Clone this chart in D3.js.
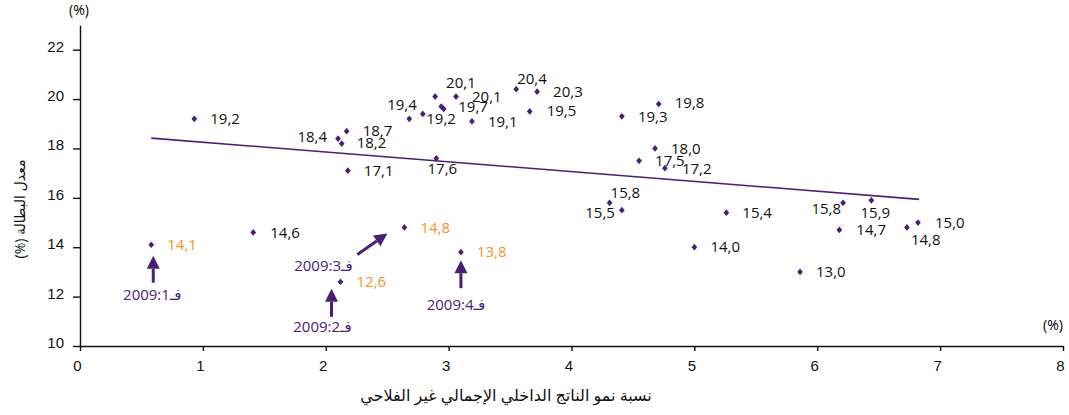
<!DOCTYPE html>
<html>
<head>
<meta charset="utf-8">
<script src="https://cdn.jsdelivr.net/npm/d3@7"></script>
<style>
  body { margin: 0; background: #fff; }
  svg { font-family: 'Open Sans', 'DejaVu Sans', sans-serif; }
  .tick text { font-size: 15px; fill: #111; }
  .domain, .tick line { stroke: #111; stroke-width: 1.4px; }
</style>
</head>
<body>
<svg width="1069" height="415"></svg>
<script>
// growth of non-agricultural GDP (x) vs unemployment rate (y), quarterly
const gdpGrowth = [0.93, 2.10, 2.17, 2.13, 2.18, 2.79, 2.68, 2.89, 3.06, 2.94, 2.96, 3.19,
  3.55, 3.72, 3.66, 2.90, 4.41, 4.71, 4.68, 4.55, 4.76, 4.31, 4.41, 5.26, 5.00, 5.86,
  6.21, 6.44, 6.18, 6.82, 6.73, 1.41];
const unemployment = [19.2, 18.4, 18.7, 18.2, 17.1, 19.4, 19.2, 20.1, 20.1, 19.7, 19.6, 19.1,
  20.4, 20.3, 19.5, 17.6, 19.3, 19.8, 18.0, 17.5, 17.2, 15.8, 15.5, 15.4, 14.0, 13.0,
  15.8, 15.9, 14.7, 15.0, 14.8, 14.6];
const showLabel = unemployment.map((d, i) => i !== 10);

// 2009 quarters
const quarterNames = ['فـ2009:1', 'فـ2009:2', 'فـ2009:3', 'فـ2009:4'];
const quarterGrowth = [0.58, 2.12, 2.64, 3.10];
const quarterUnemployment = [14.1, 12.6, 14.8, 13.8];

// trend line ends
const trendX = [0.58, 6.83];
const trendY = [18.42, 15.94];

const xTicks = [0, 1, 2, 3, 4, 5, 6, 7, 8];
const yTicks = [10, 12, 14, 16, 18, 20, 22];

const xTitle = 'نسبة نمو الناتج الداخلي الإجمالي غير الفلاحي';
const yTitle = 'معدل البطالة (%)';

// label placement for each point: [dx, dy, anchor]
const labelPlace = [
  [16, 0, 'start'], [-11, -2, 'end'], [16, 0, 'start'], [15, -1, 'start'], [16, 0, 'start'],
  [-6, -9, 'end'], [17, 0, 'start'], [11, -14, 'start'], [16, 0, 'start'], [17, 0, 'start'],
  [0, 0, 'start'], [16, 0, 'start'], [1, -10, 'start'], [16, 0, 'start'], [17, -1, 'start'],
  [6, 10, 'middle'], [16, 0, 'start'], [16, -1, 'start'], [16, 0, 'start'], [16, 0, 'start'],
  [17, 1, 'start'], [1, -10, 'start'], [-7, 3, 'end'], [16, 0, 'start'], [16, 0, 'start'],
  [16, 0, 'start'], [-2, 6, 'end'], [4, 12, 'middle'], [17, 0, 'start'], [17, 0, 'start'],
  [4, 12, 'start'], [17, 0, 'start']
];
// arrows for 2009 quarters: tip, tail and label offsets from the point
const arrowPlace = [
  { tip: [2, 11], tail: [2, 38], text: [1, 50] },
  { tip: [-9, 7], tail: [-9, 35], text: [-18, 45] },
  { tip: [-17, 6], tail: [-47, 27], text: [-81, 38] },
  { tip: [0, 8], tail: [0, 36], text: [-5, 53] }
];

const purple = '#4a2072';
const orange = '#f7941d';

const svg = d3.select('svg');
const width = +svg.attr('width');
const height = +svg.attr('height');
const margin = { top: 25, right: 6, bottom: 69, left: 80 };
const innerWidth = width - margin.left - margin.right;
const innerHeight = height - margin.top - margin.bottom;

const xScale = d3.scaleLinear().domain([0, 8]).range([0, innerWidth]);
const yScale = d3.scaleLinear().domain([10, 23]).range([innerHeight, 0]);

const g = svg.append('g')
  .attr('transform', `translate(${margin.left}, ${margin.top})`);

const fmt = v => d3.format('.1f')(v).replace('.', ',');

// axes
const xAxisG = g.append('g')
  .attr('transform', `translate(0, ${innerHeight})`)
  .call(d3.axisBottom(xScale).tickValues(xTicks).tickFormat(d3.format('d'))
    .tickSize(5).tickSizeOuter(0).tickPadding(9));
xAxisG.selectAll('.tick text').attr('dx', -3);

const yAxisG = g.append('g')
  .call(d3.axisLeft(yScale).tickValues(yTicks).tickFormat(d3.format('d'))
    .tickSize(7).tickSizeOuter(0).tickPadding(9));
yAxisG.selectAll('.tick text').attr('dy', '0.1em');

g.append('text')
  .attr('x', -1).attr('y', -10)
  .attr('text-anchor', 'middle')
  .attr('font-size', 14)
  .text('(%)');

g.append('text')
  .attr('x', innerWidth - 10).attr('y', innerHeight - 16)
  .attr('text-anchor', 'middle')
  .attr('font-size', 14)
  .text('(%)');

svg.append('text')
  .attr('x', 506).attr('y', 401)
  .attr('text-anchor', 'middle')
  .attr('direction', 'rtl')
  .attr('font-size', 16)
  .attr('fill', '#111')
  .text(xTitle);

svg.append('text')
  .attr('transform', `translate(25, 209) rotate(-90)`)
  .attr('text-anchor', 'middle')
  .attr('direction', 'rtl')
  .attr('font-size', 14)
  .attr('fill', '#111')
  .text(yTitle);

// trend line
const line = d3.line().x(d => xScale(d[0])).y(d => yScale(d[1]));
g.append('path')
  .datum(trendX.map((x, i) => [x, trendY[i]]))
  .attr('d', line)
  .attr('fill', 'none')
  .attr('stroke', purple)
  .attr('stroke-width', 1.6);

// points
const diamond = d3.symbol().type(d3.symbolDiamond).size(18);
const points = gdpGrowth.map((x, i) => ({ x, y: unemployment[i], show: showLabel[i], place: labelPlace[i] }));
const quarters = quarterGrowth.map((x, i) => ({ x, y: quarterUnemployment[i], name: quarterNames[i], arrow: arrowPlace[i] }));

g.selectAll('.pt').data(points.concat(quarters))
  .enter().append('path')
    .attr('class', 'pt')
    .attr('d', diamond)
    .attr('fill', purple)
    .attr('transform', d => `translate(${xScale(d.x)}, ${yScale(d.y)}) scale(1.25, 0.85)`);

g.selectAll('.lbl').data(points.filter(d => d.show))
  .enter().append('text')
    .attr('class', 'lbl')
    .attr('x', d => xScale(d.x) + d.place[0])
    .attr('y', d => yScale(d.y) + d.place[1])
    .attr('dy', '0.35em')
    .attr('text-anchor', d => d.place[2])
    .attr('font-size', 15)
    .attr('fill', '#111')
    .text(d => fmt(d.y));

g.selectAll('.qlbl').data(quarters)
  .enter().append('text')
    .attr('class', 'qlbl')
    .attr('x', d => xScale(d.x) + 16)
    .attr('y', d => yScale(d.y))
    .attr('dy', '0.35em')
    .attr('font-size', 15)
    .attr('fill', orange)
    .text(d => fmt(d.y));

// arrows
const arrowG = g.selectAll('.arrow').data(quarters)
  .enter().append('g')
    .attr('class', 'arrow');

arrowG.each(function(d) {
  const px = xScale(d.x), py = yScale(d.y);
  const tx = px + d.arrow.tip[0], ty = py + d.arrow.tip[1];
  const bx = px + d.arrow.tail[0], by = py + d.arrow.tail[1];
  const ang = Math.atan2(ty - by, tx - bx);
  const len = 13, half = 6.5;
  const hx = tx - len * Math.cos(ang), hy = ty - len * Math.sin(ang);
  const sel = d3.select(this);
  sel.append('line')
    .attr('x1', bx).attr('y1', by).attr('x2', hx).attr('y2', hy)
    .attr('stroke', purple).attr('stroke-width', 3);
  sel.append('path')
    .attr('d', `M${tx},${ty}L${hx - half * Math.sin(ang)},${hy + half * Math.cos(ang)}L${hx + half * Math.sin(ang)},${hy - half * Math.cos(ang)}Z`)
    .attr('fill', purple);
  sel.append('text')
    .attr('x', px + d.arrow.text[0])
    .attr('y', py + d.arrow.text[1])
    .attr('dy', '0.35em')
    .attr('text-anchor', 'middle')
    .attr('font-size', 15)
    .attr('fill', purple)
    .text(d.name);
});
</script>
</body>
</html>
